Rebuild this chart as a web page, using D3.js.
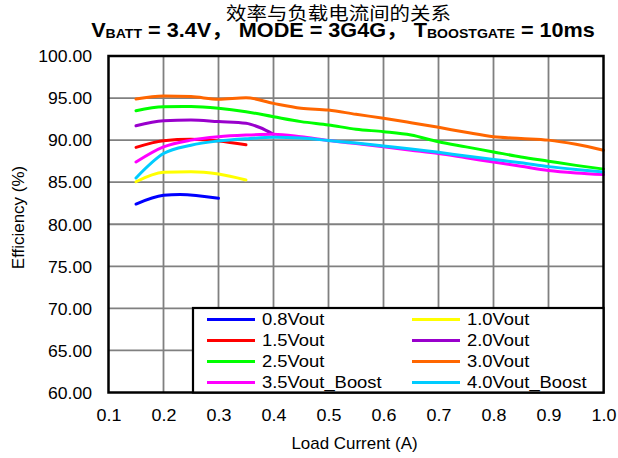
<!DOCTYPE html>
<html><head><meta charset="utf-8">
<script src="https://cdn.jsdelivr.net/npm/d3@7"></script>
<style>body{margin:0;background:#fff;}svg{display:block;}</style>
</head><body>
<svg id="c" width="618" height="458"></svg>
<script>
// ---- data ----
const xTicks = [0.1,0.2,0.3,0.4,0.5,0.6,0.7,0.8,0.9,1.0];
const yTicks = [60,65,70,75,80,85,90,95,100];
const seriesNames = ["0.8Vout","1.0Vout","1.5Vout","2.0Vout","2.5Vout","3.0Vout","3.5Vout_Boost","4.0Vout_Boost"];
const seriesColors = ["#0000ff","#ffff00","#ff0000","#9900cc","#00ff00","#ff6600","#ff00ff","#00ccff"];
const loadShort = [0.15,0.2,0.25,0.3,0.35];
const loadFull = [0.15,0.2,0.25,0.3,0.35,0.4,0.45,0.5,0.55,0.6,0.65,0.7,0.75,0.8,0.85,0.9,0.95,1.0];
const v08x = [0.15,0.2,0.23,0.3];
const v08 = [82.4,83.45,83.55,83.08];
const v10 = [85.05,86.17,86.25,85.97,85.26];
const v15 = [89.14,89.93,90.1,89.9,89.45];
const v20x = [0.15,0.2,0.25,0.3,0.35,0.375,0.4];
const v20 = [91.7,92.3,92.4,92.2,92.0,91.5,90.7];
const v25 = [93.5,93.97,94.0,93.8,93.38,92.78,92.2,91.8,91.3,91.0,90.6,89.8,89.2,88.6,88.0,87.5,87.0,86.56];
const v30 = [94.89,95.24,95.18,94.85,95.04,94.37,93.8,93.58,93.07,92.6,92.07,91.52,90.93,90.4,90.2,90.0,89.5,88.8];
const v35 = [87.4,89.2,90.0,90.4,90.6,90.7,90.4,89.95,89.6,89.2,88.8,88.4,87.9,87.4,86.9,86.4,86.1,85.9];
const v40 = [85.5,88.4,89.4,89.9,90.17,90.33,90.25,89.95,89.65,89.3,88.95,88.55,88.1,87.7,87.3,86.85,86.5,86.2];

const series = [
  {x: v08x, y: v08}, {x: loadShort, y: v10}, {x: loadShort, y: v15}, {x: v20x, y: v20},
  {x: loadFull, y: v25}, {x: loadFull, y: v30}, {x: loadFull, y: v35}, {x: loadFull, y: v40}
];

// ---- layout ----
const L = 108.5, R = 603.5, T = 56, B = 392.5;
const svg = d3.select("#c");
const x = d3.scaleLinear().domain([0.1,1.0]).range([L,R]);
const y = d3.scaleLinear().domain([60,100]).range([B,T]);
const FONT = "'Liberation Sans', Arial, sans-serif";

function stretch(sel, s){
  sel.each(function(){
    const t = d3.select(this);
    const ax = +t.attr("x") || 0;
    t.attr("transform", `translate(${ax},0) scale(${s},1) translate(${-ax},0)`);
  });
}

// gridlines
svg.append("g").selectAll("line").data(xTicks.slice(1,-1)).join("line")
  .attr("x1", d=>x(d)).attr("x2", d=>x(d)).attr("y1", T).attr("y2", B)
  .attr("stroke", "#808080").attr("stroke-width", 1.8);
svg.append("g").selectAll("line").data(yTicks.slice(1,-1)).join("line")
  .attr("x1", L).attr("x2", R).attr("y1", d=>y(d)).attr("y2", d=>y(d))
  .attr("stroke", "#808080").attr("stroke-width", 1.8);

// axes labels
const ya = svg.append("g").attr("transform", `translate(${L},0)`)
  .call(d3.axisLeft(y).tickValues(yTicks).tickFormat(d3.format(".2f")).tickSize(0).tickPadding(16.5));
ya.select(".domain").remove();
ya.selectAll("text").attr("font-family", FONT).attr("font-size", 16).attr("fill", "#000").attr("dy", "0.36em");
stretch(ya.selectAll("text"), 1.1);

const xa = svg.append("g").attr("transform", `translate(0,${B})`)
  .call(d3.axisBottom(x).tickValues(xTicks).tickFormat(d3.format(".1f")).tickSize(0));
xa.select(".domain").remove();
xa.selectAll("text").attr("font-family", FONT).attr("font-size", 16).attr("fill", "#000").attr("y", 28.5).attr("dy", 0);
stretch(xa.selectAll("text"), 1.12);

// lines
const line = d3.line().curve(d3.curveMonotoneX);
series.forEach((s,i)=>{
  svg.append("path")
    .attr("d", line(s.x.map((xv,j)=>[x(xv), y(s.y[j])])))
    .attr("fill","none").attr("stroke", seriesColors[i]).attr("stroke-width", 3)
    .attr("stroke-linecap","round").attr("stroke-linejoin","round");
});

// frame
svg.append("rect").attr("x", L).attr("y", T).attr("width", R-L).attr("height", B-T)
  .attr("fill","none").attr("stroke","#000").attr("stroke-width", 2.5);

// legend
const lg = svg.append("g");
lg.append("rect").attr("x",193).attr("y",308).attr("width",R-193).attr("height",B-308)
  .attr("fill","#fff").attr("stroke","#000").attr("stroke-width",2.2);
seriesNames.forEach((n,i)=>{
  const col = i%2, row = Math.floor(i/2);
  const lx = col===0 ? 207 : 412;
  const ly = 319.5 + row*21;
  lg.append("line").attr("x1",lx).attr("x2",lx+48).attr("y1",ly).attr("y2",ly)
    .attr("stroke", seriesColors[i]).attr("stroke-width",3);
  const t = lg.append("text").attr("x", lx+55).attr("y", ly).attr("dy","0.36em")
    .attr("font-family",FONT).attr("font-size",16).attr("fill","#000").text(n);
  stretch(t, 1.15);
});

// axis titles
const xt = svg.append("text").attr("x", 354.5).attr("y", 449).attr("text-anchor","middle")
  .attr("font-family",FONT).attr("font-size",16).attr("fill","#000").text("Load Current (A)");
stretch(xt, 1.06);
const ytg = svg.append("g").attr("transform","translate(24,217.5) rotate(-90)");
const ytt = ytg.append("text").attr("x",0).attr("y",0).attr("text-anchor","middle")
  .attr("font-family",FONT).attr("font-size",16).attr("fill","#000").text("Efficiency (%)");
stretch(ytt, 1.06);

// titles
const t1g = svg.append("g");
const t1 = t1g.append("text").attr("x",0).attr("y",0).attr("text-anchor","middle")
  .attr("font-family","'Noto Sans CJK SC', sans-serif").attr("font-size",18).attr("fill","#000")
  .text("效率与负载电流间的关系");
const w1 = t1.node().getComputedTextLength();
t1g.attr("transform", `translate(338.5,20) scale(${225/w1},1)`);

const t2g = svg.append("g");
const t2 = t2g.append("text").attr("x",0).attr("y",0).attr("text-anchor","middle")
  .attr("font-family", FONT + ", 'Noto Sans CJK SC'").attr("font-weight","bold").attr("font-size",20).attr("fill","#000");
t2.append("tspan").text("V");
t2.append("tspan").attr("font-size",13).attr("dy",1).text("BATT");
t2.append("tspan").attr("dy",-1).text(" = 3.4V\uFF0C MODE = 3G4G\uFF0C T");
t2.append("tspan").attr("font-size",13).attr("dy",1).text("BOOSTGATE");
t2.append("tspan").attr("dy",-1).text(" = 10ms");
const w2 = t2.node().getComputedTextLength();
t2g.attr("transform", `translate(343,37) scale(${504/w2},1)`);
</script>
</body></html>
